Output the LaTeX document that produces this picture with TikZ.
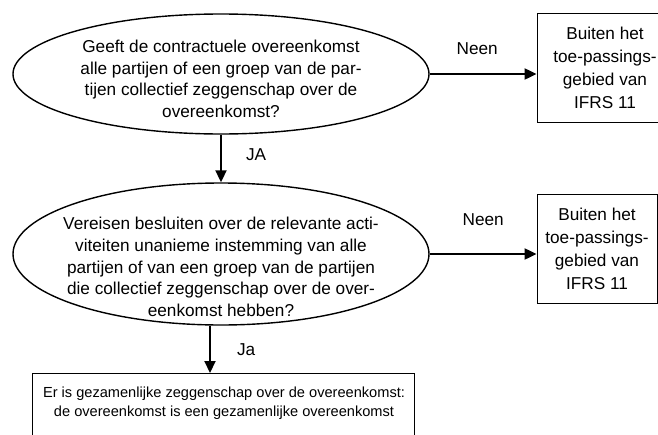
\documentclass[tikz,border=0pt]{standalone}
\usepackage{fontspec}
\setmainfont{Liberation Sans}
\usetikzlibrary{arrows.meta, positioning, shapes.geometric}

\begin{document}
\begin{tikzpicture}[x=1pt, y=-1pt,
    >={Triangle[length=12pt, width=11pt]},
    question/.style={ellipse, draw, line width=1.4pt, inner sep=0pt,
      minimum width=416pt},
    qtext/.style={align=center, inner sep=0pt, font=\fontsize{17.2}{21.7}\selectfont},
    outbox/.style={rectangle, draw, line width=0.8pt, minimum height=109pt,
      inner sep=0pt, align=center, font=\fontsize{17.2}{23}\selectfont},
    resultbox/.style={rectangle, draw, line width=0.8pt, minimum width=382pt,
      minimum height=80pt, inner sep=0pt},
    rtext/.style={align=center, inner sep=0pt, font=\fontsize{14.6}{18.5}\selectfont},
    lbl/.style={inner sep=0pt, font=\fontsize{17.2}{21.7}\selectfont},
    flow/.style={->, line width=2pt},
  ]
  \useasboundingbox (0,0) rectangle (658,434);
  \clip (0,0) rectangle (658,434);

  % questions
  \node[question, minimum height=120pt] (q1) at (221,74) {};
  \node[qtext] (q1text) at (221,79) {Geeft de contractuele overeenkomst\\
    alle partijen of een groep van de par-\\
    tijen collectief zeggenschap over de\\
    overeenkomst?};
  \node[question, minimum height=142pt] (q2) at (221,254) {};
  \node[qtext] (q2text) at (221,267) {Vereisen besluiten over de relevante acti-\\
    viteiten unanieme instemming van alle\\
    partijen of van een groep van de partijen\\
    die collectief zeggenschap over de over-\\
    eenkomst hebben?};

  % outcomes
  \node[outbox, minimum width=136pt] (out1) at (605,67.5) {Buiten het\\
    toe-passings-\\gebied van\\IFRS 11};
  \node[outbox, minimum width=120pt] (out2) at (597,248.5) {Buiten het\\
    toe-passings-\\gebied van\\IFRS 11};
  \node[resultbox, anchor=north] (result) at (223,373) {};
  \node[rtext] (restext) at (224,403) {Er is gezamenlijke zeggenschap over de overeenkomst:\\
    de overeenkomst is een gezamenlijke overeenkomst};

  % arrows
  \draw[flow] (q1.east) -- (q1.east -| out1.west)
    node[lbl, midway, above=18pt, xshift=-6pt] {Neen};
  \draw[flow] (q2.east) -- (q2.east -| out2.west)
    node[lbl, midway, above=27pt] {Neen};
  \draw[flow] (q1.south) -- (q2.north)
    node[lbl, midway, right=24pt, yshift=4pt] {JA};
  \draw[flow] ([xshift=-11pt]q2.south) -- ([xshift=-11pt]q2.south |- result.north)
    node[lbl, midway, right=26pt] {Ja};
\end{tikzpicture}
\end{document}
